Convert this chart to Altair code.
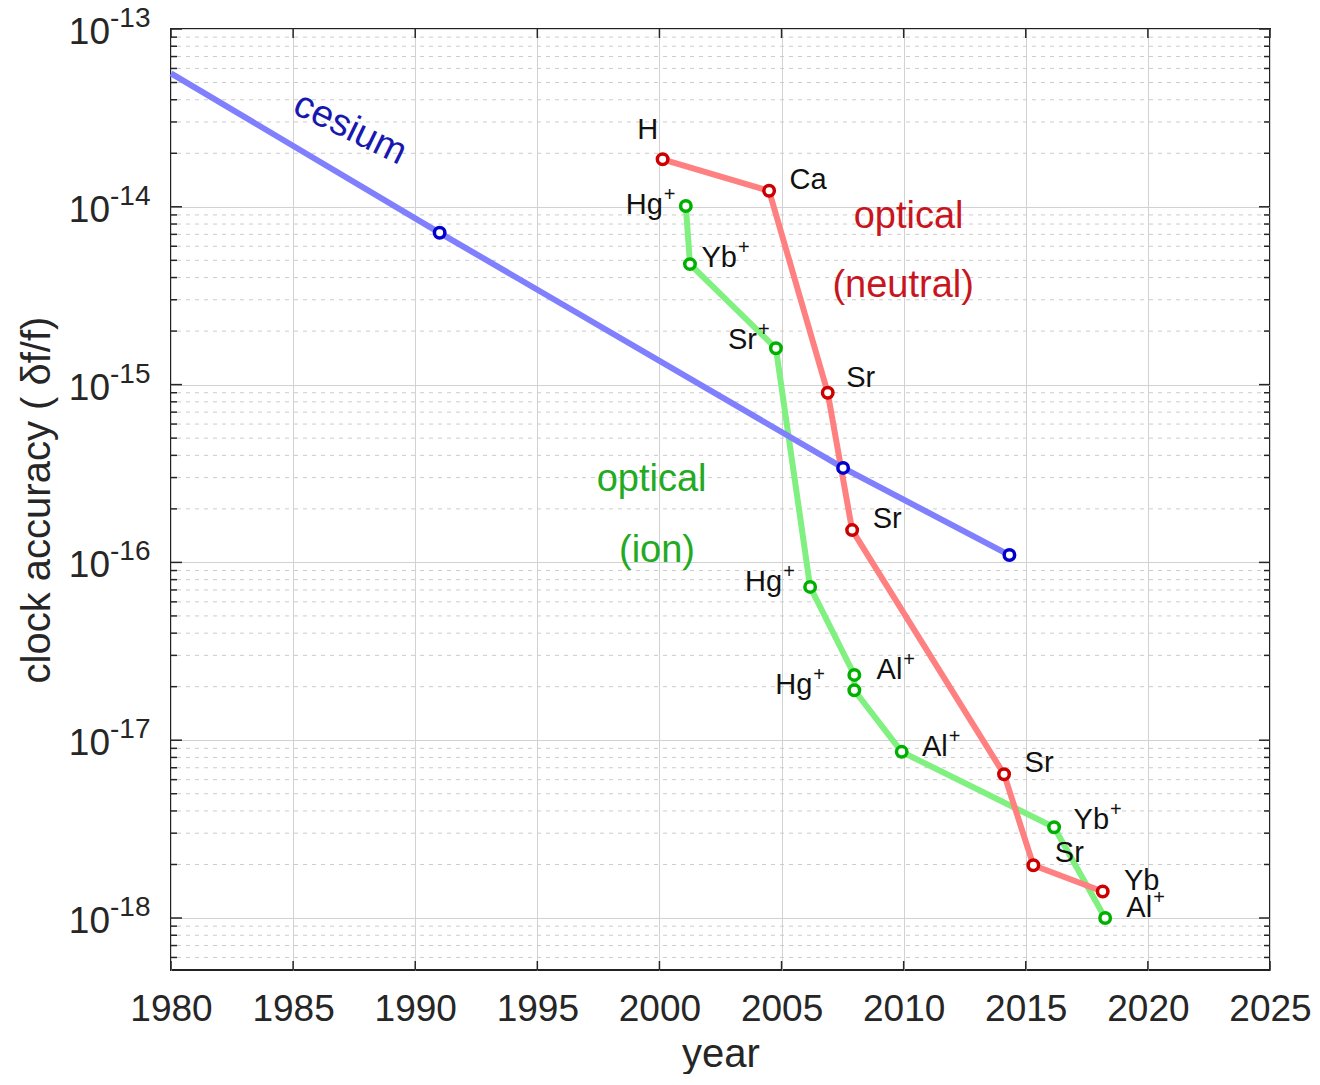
import altair as alt
import pandas as pd

FONT = "Liberation Sans"

# ---------------- data ----------------
# cesium clocks (first entry is the start of the trend line, no marker)
cs_year = [1980.0, 1991.0, 2007.52, 2014.33]
cs_val = [5.63e-14, 7.14e-15, 3.40e-16, 1.10e-16]
cs_mark = [0, 1, 1, 1]

# optical clocks, neutral atoms
nt_year = [2000.13, 2004.49, 2006.89, 2007.89, 2014.11, 2015.31, 2018.15]
nt_val = [1.85e-14, 1.23e-14, 9.0e-16, 1.52e-16, 6.44e-18, 1.98e-18, 1.41e-18]
nt_label = ["H", "Ca", "Sr", "Sr", "Sr", "Sr", "Yb"]

# optical clocks, ions
ion_year = [2001.08, 2001.25, 2004.77, 2006.17, 2007.98, 2007.98, 2009.92, 2016.16, 2018.25]
ion_val = [1.01e-14, 4.76e-15, 1.60e-15, 7.28e-17, 2.33e-17, 1.91e-17, 8.6e-18, 3.24e-18, 1.0e-18]
ion_label = ["Hg", "Yb", "Sr", "Hg", "Al", "Hg", "Al", "Yb", "Al"]
ion_sup = ["+"] * 9

# annotations
ann_text = ["cesium", "optical", "(neutral)", "optical", "(ion)"]
ann_year = [1987.33, 2010.2, 2009.98, 1999.68, 1999.9]
ann_val = [2.74e-14, 8.77e-15, 3.59e-15, 2.90e-16, 1.16e-16]

# axes
year_ticks = [1980, 1985, 1990, 1995, 2000, 2005, 2010, 2015, 2020, 2025]
decade_vals = [1e-18, 1e-17, 1e-16, 1e-15, 1e-14, 1e-13]
decade_exp = ["-18", "-17", "-16", "-15", "-14", "-13"]
minor_vals = [m * 10.0 ** e for e in range(-19, -13) for m in range(2, 10)
              if 5.1e-19 <= m * 10.0 ** e <= 1e-13]

# ---------------- styling (not data) ----------------
W, H = 1099, 941
nt_dx = [-15, 39, 33, 35, 35, 36, 39]
nt_dy = [-29, -11, -15, -11, -11, -12, -10]
ion_dx = [-23, 47, -19, -28, 48, -42, 46, 55, 47]
ion_dy = [-1, -6, -8, -5, -5, -5, -5, -7, -10]
ann_color = ["#1818b0", "#c8161e", "#c8161e", "#22aa22", "#22aa22"]
ann_angle = [26, 0, 0, 0, 0]

TXT = "#262626"
GRID = "#d2d2d2"

xs = alt.Scale(domain=[1980, 2025], nice=False, zero=False)
ys = alt.Scale(type="log", domain=[5.1e-19, 1e-13], nice=False)

xaxis = alt.Axis(values=year_ticks, format="d", grid=True, gridColor=GRID,
                 gridWidth=1, ticks=False, tickSize=0, domain=False,
                 labelFont=FONT, labelFontSize=37, labelColor=TXT,
                 labelPadding=39, labelBaseline="middle",
                 labelFlush=False, labelOverlap=False, labelBound=False,
                 title="year", titleFont=FONT, titleFontSize=40,
                 titleFontWeight="normal", titleColor=TXT,
                 titleY=96, titleBaseline="alphabetic")
yaxis = alt.Axis(values=decade_vals, grid=True, gridColor=GRID, gridWidth=1,
                 ticks=False, tickSize=0, domain=False, labels=False,
                 title="clock accuracy ( δf/f)", titleFont=FONT,
                 titleFontSize=40, titleFontWeight="normal", titleColor=TXT,
                 titleX=-134, titleBaseline="middle", titleAngle=270)


def X(f):
    return alt.X(f, type="quantitative", scale=xs, axis=xaxis)


def Y(f):
    return alt.Y(f, type="quantitative", scale=ys, axis=yaxis)


cs_df = pd.DataFrame({"year": cs_year, "val": cs_val, "mark": cs_mark,
                      "i": range(len(cs_year))})
nt_df = pd.DataFrame({"year": nt_year, "val": nt_val, "label": nt_label,
                      "i": range(len(nt_year))})
ion_df = pd.DataFrame({"year": ion_year, "val": ion_val, "label": ion_label,
                       "sup": ion_sup, "i": range(len(ion_year))})
ann_df = pd.DataFrame({"year": ann_year, "val": ann_val, "text": ann_text,
                       "i": range(len(ann_text))})
dec_df = pd.DataFrame({"v": decade_vals, "exp": decade_exp})
minor_df = pd.DataFrame({"v": minor_vals})
yt_df = pd.DataFrame({"yr": year_ticks})

layers = []

# minor grid
layers.append(alt.Chart(minor_df).mark_rule(color="#cccccc", strokeWidth=1,
                                             strokeDash=[4, 5]).encode(y=Y("v")))

# lines
LW = 6
layers.append(alt.Chart(ion_df).mark_line(color="#80f080", strokeWidth=LW).encode(
    x=X("year"), y=Y("val"), order="i:Q"))
layers.append(alt.Chart(nt_df).mark_line(color="#ff8080", strokeWidth=LW).encode(
    x=X("year"), y=Y("val"), order="i:Q"))
layers.append(alt.Chart(cs_df).mark_line(color="#8080ff", strokeWidth=LW).encode(
    x=X("year"), y=Y("val"), order="i:Q"))

# markers
MS, MW = 110, 3.5
layers.append(alt.Chart(ion_df).mark_point(shape="circle", size=MS, filled=True,
                                           fill="white", stroke="#00b000",
                                           strokeWidth=MW, opacity=1).encode(
    x=X("year"), y=Y("val")))
layers.append(alt.Chart(nt_df).mark_point(shape="circle", size=MS, filled=True,
                                          fill="white", stroke="#cc0000",
                                          strokeWidth=MW, opacity=1).encode(
    x=X("year"), y=Y("val")))
layers.append(alt.Chart(cs_df).transform_filter(alt.datum.mark == 1).mark_point(
    shape="circle", size=MS, filled=True, fill="white", stroke="#0000cc",
    strokeWidth=MW, opacity=1).encode(x=X("year"), y=Y("val")))

# point labels, neutral
for i in range(len(nt_label)):
    layers.append(alt.Chart(nt_df).transform_filter(alt.datum.i == i).mark_text(
        font=FONT, fontSize=29, color="#111111", align="center",
        baseline="middle", dx=nt_dx[i], dy=nt_dy[i]).encode(
        x=X("year"), y=Y("val"), text="label:N"))

# point labels, ions (base + superscript)
for i in range(len(ion_label)):
    layers.append(alt.Chart(ion_df).transform_filter(alt.datum.i == i).mark_text(
        font=FONT, fontSize=29, color="#111111", align="right",
        baseline="middle", dx=ion_dx[i], dy=ion_dy[i]).encode(
        x=X("year"), y=Y("val"), text="label:N"))
    layers.append(alt.Chart(ion_df).transform_filter(alt.datum.i == i).mark_text(
        font=FONT, fontSize=20, color="#111111", align="left",
        baseline="middle", dx=ion_dx[i] + 1, dy=ion_dy[i] - 10).encode(
        x=X("year"), y=Y("val"), text="sup:N"))

# annotations
for i in range(len(ann_text)):
    layers.append(alt.Chart(ann_df).transform_filter(alt.datum.i == i).mark_text(
        font=FONT, fontSize=38, color=ann_color[i], align="center",
        baseline="middle", angle=ann_angle[i]).encode(
        x=X("year"), y=Y("val"), text="text:N"))

# y tick labels 10^n
layers.append(alt.Chart(dec_df).mark_text(font=FONT, fontSize=37, color=TXT,
                                          align="right", baseline="middle",
                                          dy=4).encode(
    x=alt.value(-61), y=Y("v"), text=alt.value("10")))
layers.append(alt.Chart(dec_df).mark_text(font=FONT, fontSize=28, color=TXT,
                                          align="left", baseline="middle",
                                          dy=-10).encode(
    x=alt.value(-61), y=Y("v"), text="exp:N"))

# inward ticks: left/right, major & minor
TK = "#262626"
for x0, x1 in [(0, 11), (W, W - 11)]:
    layers.append(alt.Chart(dec_df).mark_rule(color=TK, strokeWidth=1.5).encode(
        y=Y("v"), x=alt.value(x0), x2=alt.value(x1)))
for x0, x1 in [(0, 6), (W, W - 6)]:
    layers.append(alt.Chart(minor_df).mark_rule(color=TK, strokeWidth=1.5).encode(
        y=Y("v"), x=alt.value(x0), x2=alt.value(x1)))
# top/bottom ticks
for y0, y1 in [(0, 9), (H, H - 9)]:
    layers.append(alt.Chart(yt_df).mark_rule(color=TK, strokeWidth=1.5).encode(
        x=X("yr"), y=alt.value(y0), y2=alt.value(y1)))

chart = alt.layer(*layers).properties(
    width=W, height=H,
    autosize=alt.AutoSizeParams(type="none"),
    padding={"left": 163, "top": 21, "right": 42, "bottom": 104},
    background="white",
).configure_view(stroke="#222222", strokeWidth=2)

chart.save("out.html", embed_options={"renderer": "svg", "actions": False})
